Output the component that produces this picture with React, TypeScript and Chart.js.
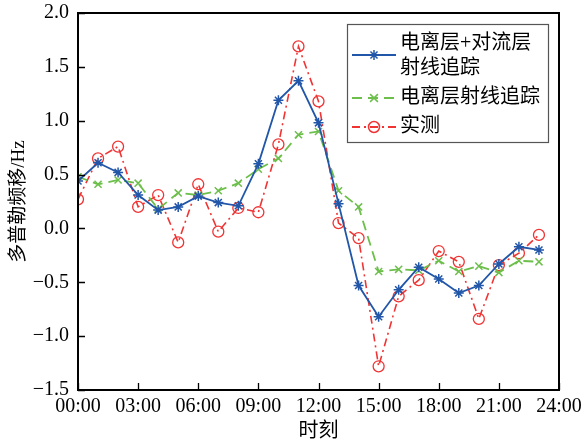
import React, { useEffect, useRef } from "react";
import { Chart, registerables } from "chart.js";

Chart.register(...registerables);

const hours = [0, 1, 2, 3, 4, 5, 6, 7, 8, 9, 10, 11, 12, 13, 14, 15, 16, 17, 18, 19, 20, 21, 22, 23];
const xTickLabels = ["00:00", "03:00", "06:00", "09:00", "12:00", "15:00", "18:00", "21:00", "24:00"];

const ionoTropo = [0.44, 0.61, 0.52, 0.31, 0.17, 0.2, 0.3, 0.24, 0.21, 0.6, 1.19, 1.37, 0.98, 0.23, -0.53, -0.82, -0.57, -0.36, -0.47, -0.6, -0.53, -0.33, -0.17, -0.2];
const ionoOnly = [0.48, 0.41, 0.45, 0.42, 0.18, 0.33, 0.31, 0.35, 0.42, 0.55, 0.65, 0.87, 0.9, 0.35, 0.2, -0.4, -0.38, -0.39, -0.3, -0.4, -0.35, -0.41, -0.3, -0.31];
const measured = [0.27, 0.65, 0.76, 0.2, 0.31, -0.13, 0.41, -0.03, 0.19, 0.15, 0.78, 1.69, 1.18, 0.05, -0.09, -1.28, -0.63, -0.48, -0.21, -0.31, -0.84, -0.34, -0.23, -0.06];

const seriesNames = [["电离层+对流层", "射线追踪"], ["电离层射线追踪"], ["实测"]];
const yTitle = "多普勒频移/Hz";
const xTitle = "时刻";

const BLUE = "#2156a8";
const GREEN = "#6cbf4a";
const RED = "#f03434";
const FONT = "'Liberation Serif', 'Noto Sans CJK SC', serif";

function drawMarker(ctx: CanvasRenderingContext2D, style: string, x: number, y: number, r: number, color: string) {
  ctx.save();
  ctx.setLineDash([]);
  ctx.strokeStyle = color;
  ctx.lineWidth = 1.5;
  ctx.beginPath();
  if (style === "star") {
    ctx.moveTo(x - r, y); ctx.lineTo(x + r, y);
    ctx.moveTo(x, y - r); ctx.lineTo(x, y + r);
    const d = r * 0.7071;
    ctx.moveTo(x - d, y - d); ctx.lineTo(x + d, y + d);
    ctx.moveTo(x - d, y + d); ctx.lineTo(x + d, y - d);
  } else if (style === "crossRot") {
    const d = r * 0.7071;
    ctx.moveTo(x - d, y - d); ctx.lineTo(x + d, y + d);
    ctx.moveTo(x - d, y + d); ctx.lineTo(x + d, y - d);
  } else {
    ctx.arc(x, y, r, 0, Math.PI * 2);
  }
  ctx.stroke();
  ctx.restore();
}

const decorPlugin = {
  id: "decor",
  afterDraw(chart: any) {
    const ctx: CanvasRenderingContext2D = chart.ctx;
    const { left, right, top, bottom } = chart.chartArea;
    const xs = chart.scales.x;
    const ys = chart.scales.y;
    ctx.save();
    // frame
    ctx.strokeStyle = "#000";
    ctx.lineWidth = 2;
    ctx.setLineDash([]);
    ctx.beginPath();
    ctx.moveTo(left, top);
    ctx.lineTo(right, top);
    ctx.lineTo(right, bottom);
    ctx.lineTo(left, bottom);
    ctx.closePath();
    ctx.stroke();
    // inward ticks
    ctx.lineWidth = 1.3;
    ctx.beginPath();
    xs.ticks.forEach((t: any) => {
      const px = Math.round(xs.getPixelForValue(t.value)) + 0.5;
      ctx.moveTo(px, bottom);
      ctx.lineTo(px, bottom - 7);
    });
    ys.ticks.forEach((t: any) => {
      const py = Math.round(ys.getPixelForValue(t.value)) + 0.5;
      ctx.moveTo(left, py);
      ctx.lineTo(left + 7, py);
    });
    ctx.stroke();

    // axis titles
    ctx.fillStyle = "#000";
    ctx.font = `20px ${FONT}`;
    ctx.textAlign = "center";
    ctx.textBaseline = "middle";
    ctx.fillText(xTitle, (left + right) / 2, 432);
    ctx.save();
    ctx.translate(19, (top + bottom) / 2);
    ctx.rotate(-Math.PI / 2);
    ctx.font = `19px ${FONT}`;
    ctx.fillText(yTitle, 0, 0);
    ctx.restore();

    // legend
    const bx = 347, by = 24, bw = 201, bh = 118;
    ctx.fillStyle = "#fff";
    ctx.fillRect(bx, by, bw, bh);
    ctx.strokeStyle = "#555";
    ctx.lineWidth = 1.2;
    ctx.strokeRect(bx + 0.5, by + 0.5, bw, bh);
    const entries = [
      { color: BLUE, dash: [] as number[], style: "star", y: 55, textYs: [44, 69], r: 5 },
      { color: GREEN, dash: [10, 6], style: "crossRot", y: 98, textYs: [98], r: 5.5 },
      { color: RED, dash: [8, 4, 2, 4], style: "circle", y: 127, textYs: [127], r: 5.5 },
    ];
    entries.forEach((e, i) => {
      ctx.save();
      ctx.strokeStyle = e.color;
      ctx.lineWidth = 1.8;
      ctx.setLineDash(e.dash);
      ctx.beginPath();
      ctx.moveTo(352, e.y);
      ctx.lineTo(396, e.y);
      ctx.stroke();
      ctx.restore();
      drawMarker(ctx, e.style, 374, e.y, e.r, e.color);
      ctx.fillStyle = "#000";
      ctx.font = `20px ${FONT}`;
      ctx.textAlign = "left";
      ctx.textBaseline = "middle";
      seriesNames[i].forEach((line, j) => {
        ctx.fillText(line, 400, e.textYs[j]);
      });
    });
    ctx.restore();
  },
};

export default function App() {
  const ref = useRef<HTMLCanvasElement | null>(null);
  useEffect(() => {
    if (!ref.current) return;
    const mk = (vals: number[]) => hours.map((h, i) => ({ x: h, y: vals[i] }));
    const chart = new Chart(ref.current, {
      type: "line",
      data: {
        datasets: [
          {
            label: seriesNames[0].join(""),
            data: mk(ionoTropo),
            borderColor: BLUE,
            backgroundColor: BLUE,
            borderWidth: 1.8,
            pointStyle: "star",
            pointRadius: 5,
            pointBorderWidth: 1.5,
            pointBorderColor: BLUE,
            tension: 0,
          },
          {
            label: seriesNames[1].join(""),
            data: mk(ionoOnly),
            borderColor: GREEN,
            backgroundColor: GREEN,
            borderWidth: 1.8,
            borderDash: [10, 6],
            pointStyle: "crossRot",
            pointRadius: 5,
            pointBorderWidth: 1.5,
            pointBorderColor: GREEN,
            tension: 0,
          },
          {
            label: seriesNames[2].join(""),
            data: mk(measured),
            borderColor: RED,
            backgroundColor: "transparent",
            borderWidth: 1.6,
            borderDash: [8, 4, 2, 4],
            pointStyle: "circle",
            pointRadius: 5.5,
            pointBorderWidth: 1.3,
            pointBorderColor: RED,
            pointBackgroundColor: "transparent",
            tension: 0,
          },
        ],
      },
      options: {
        animation: false,
        responsive: false,
        maintainAspectRatio: false,
        layout: { padding: { left: 0, right: 27, top: 13, bottom: 0 } },
        plugins: { legend: { display: false }, tooltip: { enabled: false }, title: { display: false } },
        scales: {
          x: {
            type: "linear",
            min: 0,
            max: 24,
            afterFit: (s: any) => {
              s.height = 55;
              s.paddingLeft = 0;
              s.paddingRight = 0;
              s.paddingTop = 0;
              s.paddingBottom = 0;
            },
            afterBuildTicks: (s: any) => {
              s.ticks = xTickLabels.map((_, i) => ({ value: i * 3 }));
            },
            grid: { display: false, drawTicks: false },
            border: { display: false },
            ticks: {
              color: "#000",
              font: { family: FONT, size: 20 },
              padding: 5,
              maxRotation: 0,
              autoSkip: false,
              callback: (v: any) => xTickLabels[Math.round(Number(v) / 3)],
            },
          },
          y: {
            type: "linear",
            min: -1.5,
            max: 2.0,
            afterFit: (s: any) => {
              s.width = 78;
              s.paddingTop = 0;
              s.paddingBottom = 0;
              s.paddingLeft = 0;
              s.paddingRight = 0;
            },
            grid: { display: false, drawTicks: false },
            border: { display: false },
            ticks: {
              stepSize: 0.5,
              color: "#000",
              font: { family: FONT, size: 20 },
              padding: 9,
              callback: (v: any) => Number(v).toFixed(1).replace("-", "−"),
            },
          },
        },
      },
      plugins: [decorPlugin],
    });
    return () => chart.destroy();
  }, []);
  return (
    <div style={{ position: "absolute", left: 0, top: 0, width: 586, height: 445, background: "#fff" }}>
      <canvas ref={ref} width={586} height={445} style={{ display: "block" }} />
    </div>
  );
}
